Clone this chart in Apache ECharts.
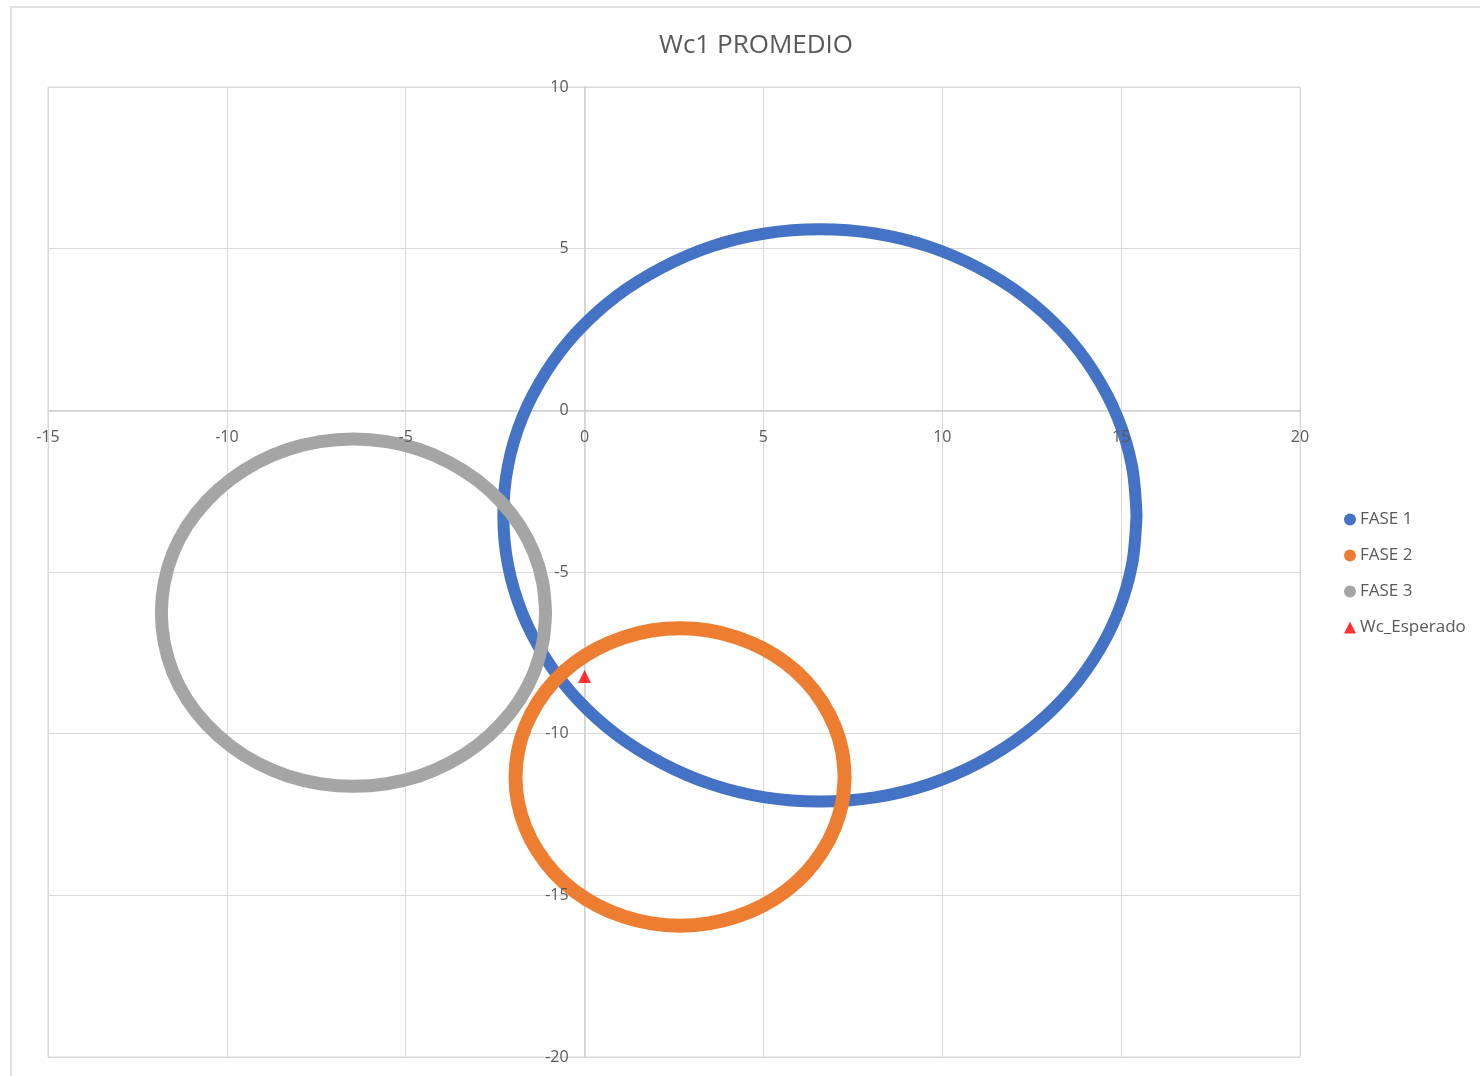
<!DOCTYPE html>
<html>
<head>
<meta charset="utf-8">
<title>Wc1 PROMEDIO</title>
<script src="https://cdn.jsdelivr.net/npm/echarts@6/dist/echarts.min.js"></script>
<style>
  html, body { margin: 0; padding: 0; background: #ffffff; }
  #chart { width: 1480px; height: 1076px; }
</style>
</head>
<body>
<div id="chart"></div>
<script>
// Phase loci (X, Y pairs, one point every 10 degrees, closed)
const fase1X = [15.43, 15.30, 14.90, 14.24, 13.36, 12.27, 11.01, 9.61, 8.12, 6.58, 5.04, 3.55, 2.16, 0.89, -0.20, -1.08, -1.74, -2.14, -2.27, -2.14, -1.74, -1.08, -0.20, 0.89, 2.16, 3.55, 5.04, 6.58, 8.12, 9.61, 11.01, 12.27, 13.36, 14.24, 14.90, 15.30, 15.43];
const fase1Y = [-3.25, -1.71, -0.22, 1.18, 2.44, 3.53, 4.41, 5.07, 5.47, 5.60, 5.47, 5.07, 4.41, 3.53, 2.44, 1.18, -0.22, -1.71, -3.25, -4.79, -6.28, -7.68, -8.94, -10.03, -10.91, -11.57, -11.97, -12.10, -11.97, -11.57, -10.91, -10.03, -8.94, -7.68, -6.28, -4.79, -3.25];

const fase2X = [7.27, 7.20, 6.99, 6.65, 6.19, 5.63, 4.97, 4.24, 3.47, 2.67, 1.87, 1.10, 0.37, -0.29, -0.85, -1.31, -1.65, -1.86, -1.93, -1.86, -1.65, -1.31, -0.85, -0.29, 0.37, 1.10, 1.87, 2.67, 3.47, 4.24, 4.97, 5.63, 6.19, 6.65, 6.99, 7.20, 7.27];
const fase2Y = [-11.34, -10.54, -9.77, -9.04, -8.38, -7.82, -7.36, -7.02, -6.81, -6.74, -6.81, -7.02, -7.36, -7.82, -8.38, -9.04, -9.77, -10.54, -11.34, -12.14, -12.91, -13.64, -14.30, -14.86, -15.32, -15.66, -15.87, -15.94, -15.87, -15.66, -15.32, -14.86, -14.30, -13.64, -12.91, -12.14, -11.34];

const fase3X = [-1.09, -1.17, -1.41, -1.81, -2.35, -3.01, -3.78, -4.62, -5.53, -6.46, -7.39, -8.30, -9.15, -9.91, -10.57, -11.11, -11.51, -11.75, -11.83, -11.75, -11.51, -11.11, -10.57, -9.91, -9.15, -8.30, -7.39, -6.46, -5.53, -4.62, -3.78, -3.01, -2.35, -1.81, -1.41, -1.17, -1.09];
const fase3Y = [-6.26, -5.33, -4.42, -3.57, -2.81, -2.15, -1.61, -1.21, -0.97, -0.89, -0.97, -1.21, -1.61, -2.15, -2.81, -3.57, -4.42, -5.33, -6.26, -7.19, -8.10, -8.95, -9.71, -10.37, -10.91, -11.31, -11.55, -11.63, -11.55, -11.31, -10.91, -10.37, -9.71, -8.95, -8.10, -7.19, -6.26];

// Expected value
const esperadoX = [0];
const esperadoY = [-8.23];

const seriesNames = ['FASE 1', 'FASE 2', 'FASE 3', 'Wc_Esperado'];
const xTicks = { min: -15, max: 20, step: 5 };
const yTicks = { min: -20, max: 10, step: 5 };

const pairs = (xs, ys) => xs.map((x, i) => [x, ys[i]]);

const FONT = '"Open Sans", "Noto Sans", sans-serif';
const TEXT = '#595959';
const GRID = '#d9d9d9';
const AXIS = '#d0d0d0';

// Plot box in pixels; both axes cross at the origin of the data
const PLOT = { left: 48, right: 1300, top: 87, bottom: 1057 };
const zeroX = PLOT.left + (PLOT.right - PLOT.left) * (0 - xTicks.min) / (xTicks.max - xTicks.min);
const zeroY = PLOT.top + (PLOT.bottom - PLOT.top) * (yTicks.max - 0) / (yTicks.max - yTicks.min);

const chart = echarts.init(document.getElementById('chart'), null, { renderer: 'canvas' });

const ring = (name, xs, ys, color, width) => ({
  name: name,
  type: 'line',
  data: pairs(xs, ys),
  smooth: 0.34,
  symbol: 'none',
  lineStyle: { color: color, width: width, cap: 'round', join: 'round' },
  itemStyle: { color: color },
  emphasis: { disabled: true },
  animation: false
});

// Gridlines + axis line sit under the data; tick labels are drawn above it
const xBase = {
  type: 'value', position: 'bottom', offset: -(PLOT.bottom - zeroY),
  min: xTicks.min, max: xTicks.max, interval: xTicks.step
};
const yBase = {
  type: 'value', position: 'left', offset: -(zeroX - PLOT.left),
  min: yTicks.min, max: yTicks.max, interval: yTicks.step
};
const labelStyle = { fontFamily: FONT, fontSize: 16, color: TEXT };

chart.setOption({
  animation: false,
  backgroundColor: '#ffffff',
  title: {
    text: 'Wc1 PROMEDIO',
    left: 751,
    textAlign: 'center',
    top: 28,
    textStyle: { fontFamily: FONT, fontSize: 26, fontWeight: 'normal', color: TEXT }
  },
  legend: {
    orient: 'vertical',
    left: 1339,
    top: 506,
    itemGap: 19,
    itemWidth: 12,
    itemHeight: 12,
    textStyle: { fontFamily: FONT, fontSize: 17, color: TEXT, padding: [0, 0, 0, -1] },
    data: [
      { name: seriesNames[0], icon: 'circle' },
      { name: seriesNames[1], icon: 'circle' },
      { name: seriesNames[2], icon: 'circle' },
      { name: seriesNames[3], icon: 'triangle' }
    ]
  },
  grid: {
    left: PLOT.left, right: 1480 - PLOT.right, top: PLOT.top, bottom: 1076 - PLOT.bottom,
    outerBoundsMode: 'none',
    containLabel: false,
    show: true, borderColor: GRID, borderWidth: 1
  },
  xAxis: [
    Object.assign({}, xBase, {
      z: 0,
      axisLine: { show: true, onZero: false, lineStyle: { color: AXIS, width: 1.5 } },
      axisTick: { show: false },
      splitLine: { show: true, lineStyle: { color: GRID, width: 1 } },
      axisLabel: { show: false }
    }),
    Object.assign({}, xBase, {
      z: 10,
      axisLine: { show: false, onZero: false },
      axisTick: { show: false },
      splitLine: { show: false },
      axisLabel: Object.assign({ margin: 19 }, labelStyle)
    })
  ],
  yAxis: [
    Object.assign({}, yBase, {
      z: 0,
      axisLine: { show: true, onZero: false, lineStyle: { color: AXIS, width: 1.5 } },
      axisTick: { show: false },
      splitLine: { show: true, lineStyle: { color: GRID, width: 1 } },
      axisLabel: { show: false }
    }),
    Object.assign({}, yBase, {
      z: 10,
      axisLine: { show: false, onZero: false },
      axisTick: { show: false },
      splitLine: { show: false },
      axisLabel: Object.assign({ margin: 16 }, labelStyle)
    })
  ],
  graphic: [{
    type: 'rect',
    silent: true,
    z: -10,
    shape: { x: 11, y: 7, width: 1520, height: 1120 },
    style: { fill: 'none', stroke: GRID, lineWidth: 1.5 }
  }],
  series: [
    ring(seriesNames[0], fase1X, fase1Y, '#4472c4', 12),
    ring(seriesNames[1], fase2X, fase2Y, '#ed7d31', 14),
    ring(seriesNames[2], fase3X, fase3Y, '#a5a5a5', 13),
    {
      name: seriesNames[3],
      type: 'scatter',
      data: pairs(esperadoX, esperadoY),
      symbol: 'triangle',
      symbolSize: 13,
      itemStyle: { color: '#ff0000' },
      emphasis: { disabled: true },
      z: 5
    }
  ]
});
</script>
</body>
</html>
